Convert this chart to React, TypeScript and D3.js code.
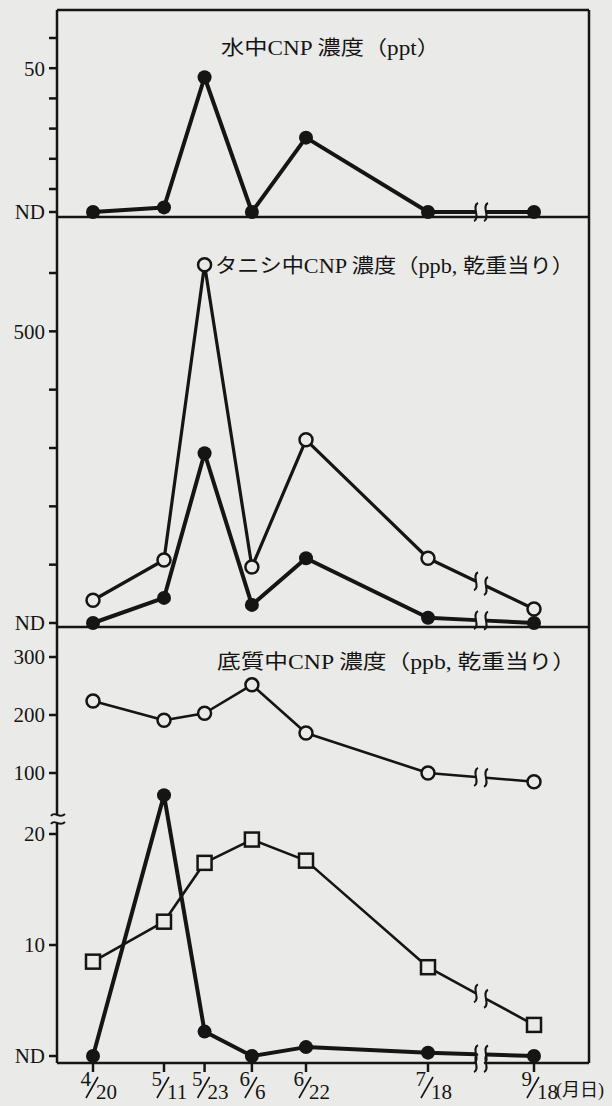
import * as d3 from 'd3';
import { useEffect, useRef } from 'react';

const W = 612;
const H = 1106;
const PAPER = '#eaeae8';
const INK = '#151515';
const FONT = "'Liberation Serif', 'DejaVu Serif', 'Noto Sans CJK JP', serif";

// sampling dates (月/日)
const months = [4, 5, 5, 6, 6, 7, 9];
const days = [20, 11, 23, 6, 22, 18, 18];

// 水中 CNP (ppt), ND = 0
const waterFilled = [0, 2, 47, 0, 27, 0, 0];
// タニシ中 CNP (ppb)
const snailOpen = [39, 108, 614, 96, 314, 111, 24];
const snailFilled = [0, 43, 291, 31, 111, 9, 0];
// 底質中 CNP (ppb)
const sedOpen = [224, 191, 203, 252, 169, 100, 85];
const sedSquare = [8.5, 12.1, 17.4, 19.5, 17.6, 8.0, 2.8];
const sedFilled = [0, 23.5, 2.2, 0, 0.8, 0.3, 0];

const titles = [
  '水中CNP 濃度（ppt）',
  'タニシ中CNP 濃度（ppb, 乾重当り）',
  '底質中CNP 濃度（ppb, 乾重当り）',
];

const waterTicks = [10, 20, 30, 40, 50, 60];
const snailTicks = [100, 200, 300, 400, 500, 600];
const sedHiTicks = [100, 200, 300];
const sedLoTicks = [10, 20];

type Marker = 'filled' | 'open' | 'square';

const App = () => {
  const svgRef = useRef<SVGSVGElement>(null);

  useEffect(() => {
    document.body.style.margin = '0';
    document.body.style.background = PAPER;
    if (!svgRef.current) return;

    const svg = d3.select(svgRef.current);
    svg.selectAll('*').remove();

    const left = 57;
    const right = 589;
    const top = 10;
    const div1 = 217;
    const div2 = 627;
    const bottom = 1063;

    const dates = months.map((m, i) => new Date(1990, m - 1, days[i]));

    // not to scale after 7/18 (axis break)
    const x = d3
      .scaleTime()
      .domain([dates[0], dates[4], dates[5], dates[6]])
      .range([93, 306, 428, 534]);

    const yWater = d3.scaleLinear().domain([0, 10, 60]).range([212, 189, 38]);
    const ySnail = d3.scaleLinear().domain([0, 600]).range([623, 273]);
    const ySedHi = d3.scaleLinear().domain([100, 300]).range([773, 657]);
    const ySedLo = d3.scaleLinear().domain([0, 20]).range([1056, 834]);

    const breakX = (x(dates[5]) + x(dates[6])) / 2;
    const gap = 5;

    svg.append('rect').attr('width', W).attr('height', H).attr('fill', PAPER);

    const g = svg.append('g').attr('fill', 'none').attr('stroke', INK);

    const breakMark = (cx: number, cy: number) =>
      `M${cx + 2},${cy - 9} C${cx - 5},${cy - 6} ${cx + 5},${cy + 6} ${cx - 2},${cy + 9}`;

    // frame
    g.append('line').attr('x1', left).attr('x2', right).attr('y1', top).attr('y2', top).attr('stroke-width', 2.5);
    g.append('line').attr('x1', right).attr('x2', right).attr('y1', top).attr('y2', bottom).attr('stroke-width', 2.5);
    g.append('line').attr('x1', left).attr('x2', right).attr('y1', div1).attr('y2', div1).attr('stroke-width', 2.5);
    g.append('line').attr('x1', left).attr('x2', right).attr('y1', div2).attr('y2', div2).attr('stroke-width', 2.5);
    // left axis with break in the sediment panel
    const axBreak = 819;
    g.append('line').attr('x1', left).attr('x2', left).attr('y1', top).attr('y2', axBreak - 4).attr('stroke-width', 2.5);
    g.append('line').attr('x1', left).attr('x2', left).attr('y1', axBreak + 4).attr('y2', bottom).attr('stroke-width', 2.5);
    [axBreak - 4, axBreak + 4].forEach((yy) => {
      g.append('path')
        .attr('d', `M${left - 6},${yy + 1} C${left - 2},${yy - 5} ${left + 2},${yy + 5} ${left + 8},${yy - 1}`)
        .attr('stroke-width', 2);
    });
    // bottom axis with break
    g.append('line').attr('x1', left).attr('x2', breakX - gap).attr('y1', bottom).attr('y2', bottom).attr('stroke-width', 2.5);
    g.append('line').attr('x1', breakX + gap).attr('x2', right).attr('y1', bottom).attr('y2', bottom).attr('stroke-width', 2.5);
    [breakX - gap, breakX + gap].forEach((bx) => {
      g.append('path').attr('d', breakMark(bx, bottom)).attr('stroke-width', 2);
    });

    // y ticks
    const tickLabel = (yy: number, label: string) => {
      svg
        .append('text')
        .attr('x', left - 12)
        .attr('y', yy)
        .attr('dy', '0.35em')
        .attr('text-anchor', 'end')
        .attr('font-family', FONT)
        .attr('font-size', 21)
        .attr('fill', INK)
        .text(label);
    };
    const yTick = (yy: number, label?: string) => {
      g.append('line').attr('x1', left - 8).attr('x2', left).attr('y1', yy).attr('y2', yy).attr('stroke-width', 2.5);
      if (label) tickLabel(yy, label);
    };

    waterTicks.forEach((t) => yTick(yWater(t), t === 50 ? '50' : undefined));
    yTick(yWater(0), 'ND');
    snailTicks.forEach((t) => yTick(ySnail(t), t === 500 ? '500' : undefined));
    yTick(ySnail(0), 'ND');
    sedHiTicks.forEach((t) => yTick(ySedHi(t), String(t)));
    sedLoTicks.forEach((t) => yTick(ySedLo(t), String(t)));
    yTick(ySedLo(0), 'ND');

    // x ticks and labels
    dates.forEach((d, i) => {
      const xx = x(d);
      g.append('line').attr('x1', xx).attr('x2', xx).attr('y1', bottom).attr('y2', bottom + 9).attr('stroke-width', 2.5);
      const lab = svg.append('g').attr('font-family', FONT).attr('font-size', 21).attr('fill', INK);
      lab.append('text').attr('x', xx - 2).attr('y', 1086).attr('text-anchor', 'end').text(months[i]);
      lab.append('text').attr('x', xx + 3).attr('y', 1099).attr('text-anchor', 'start').text(days[i]);
      g.append('line')
        .attr('x1', xx - 7)
        .attr('y1', 1098)
        .attr('x2', xx + 5)
        .attr('y2', 1077)
        .attr('stroke-width', 1.6);
    });
    svg
      .append('text')
      .attr('x', 556)
      .attr('y', 1096)
      .attr('font-family', FONT)
      .attr('font-size', 18)
      .attr('fill', INK)
      .text('(月日)');

    // series
    const drawSeries = (
      values: number[],
      y: (v: number) => number,
      marker: Marker,
      lw: number,
    ) => {
      const pts: [number, number][] = values.map((v, i) => [x(dates[i]), y(v)]);
      const line = d3.line();
      const a = pts[5];
      const b = pts[6];
      const yAt = (xx: number) => a[1] + ((b[1] - a[1]) * (xx - a[0])) / (b[0] - a[0]);
      const lg = g.append('g').attr('stroke-width', lw).attr('stroke-linejoin', 'round');
      lg.append('path').attr('d', line(pts.slice(0, 6)));
      lg.append('path').attr('d', line([a, [breakX - gap, yAt(breakX - gap)]]));
      lg.append('path').attr('d', line([[breakX + gap, yAt(breakX + gap)], b]));
      [breakX - gap, breakX + gap].forEach((bx) => {
        g.append('path').attr('d', breakMark(bx, yAt(bx))).attr('stroke-width', 2);
      });
      pts.forEach(([px, py]) => {
        if (marker === 'filled') {
          g.append('circle').attr('cx', px).attr('cy', py).attr('r', 7).attr('fill', INK).attr('stroke', 'none');
        } else if (marker === 'open') {
          g.append('circle').attr('cx', px).attr('cy', py).attr('r', 6.5).attr('fill', PAPER).attr('stroke-width', 2.5);
        } else {
          g.append('rect')
            .attr('x', px - 7)
            .attr('y', py - 7)
            .attr('width', 14)
            .attr('height', 14)
            .attr('fill', PAPER)
            .attr('stroke-width', 2.5);
        }
      });
    };

    drawSeries(waterFilled, yWater, 'filled', 4);
    drawSeries(snailOpen, ySnail, 'open', 3.2);
    drawSeries(snailFilled, ySnail, 'filled', 4);
    drawSeries(sedOpen, ySedHi, 'open', 2.6);
    drawSeries(sedSquare, ySedLo, 'square', 2.6);
    drawSeries(sedFilled, ySedLo, 'filled', 4);

    // titles
    const titlePos: [number, number, number][] = [
      [221, 55, 219],
      [215, 273, 359],
      [217, 669, 359],
    ];
    titles.forEach((t, i) => {
      const [tx, ty, tw] = titlePos[i];
      svg
        .append('text')
        .attr('x', tx)
        .attr('y', ty)
        .attr('font-family', FONT)
        .attr('font-size', 20)
        .attr('fill', INK)
        .attr('textLength', tw)
        .attr('lengthAdjust', 'spacingAndGlyphs')
        .text(t);
    });
  }, []);

  return <svg ref={svgRef} width={W} height={H} style={{ display: 'block' }} />;
};

export default App;
